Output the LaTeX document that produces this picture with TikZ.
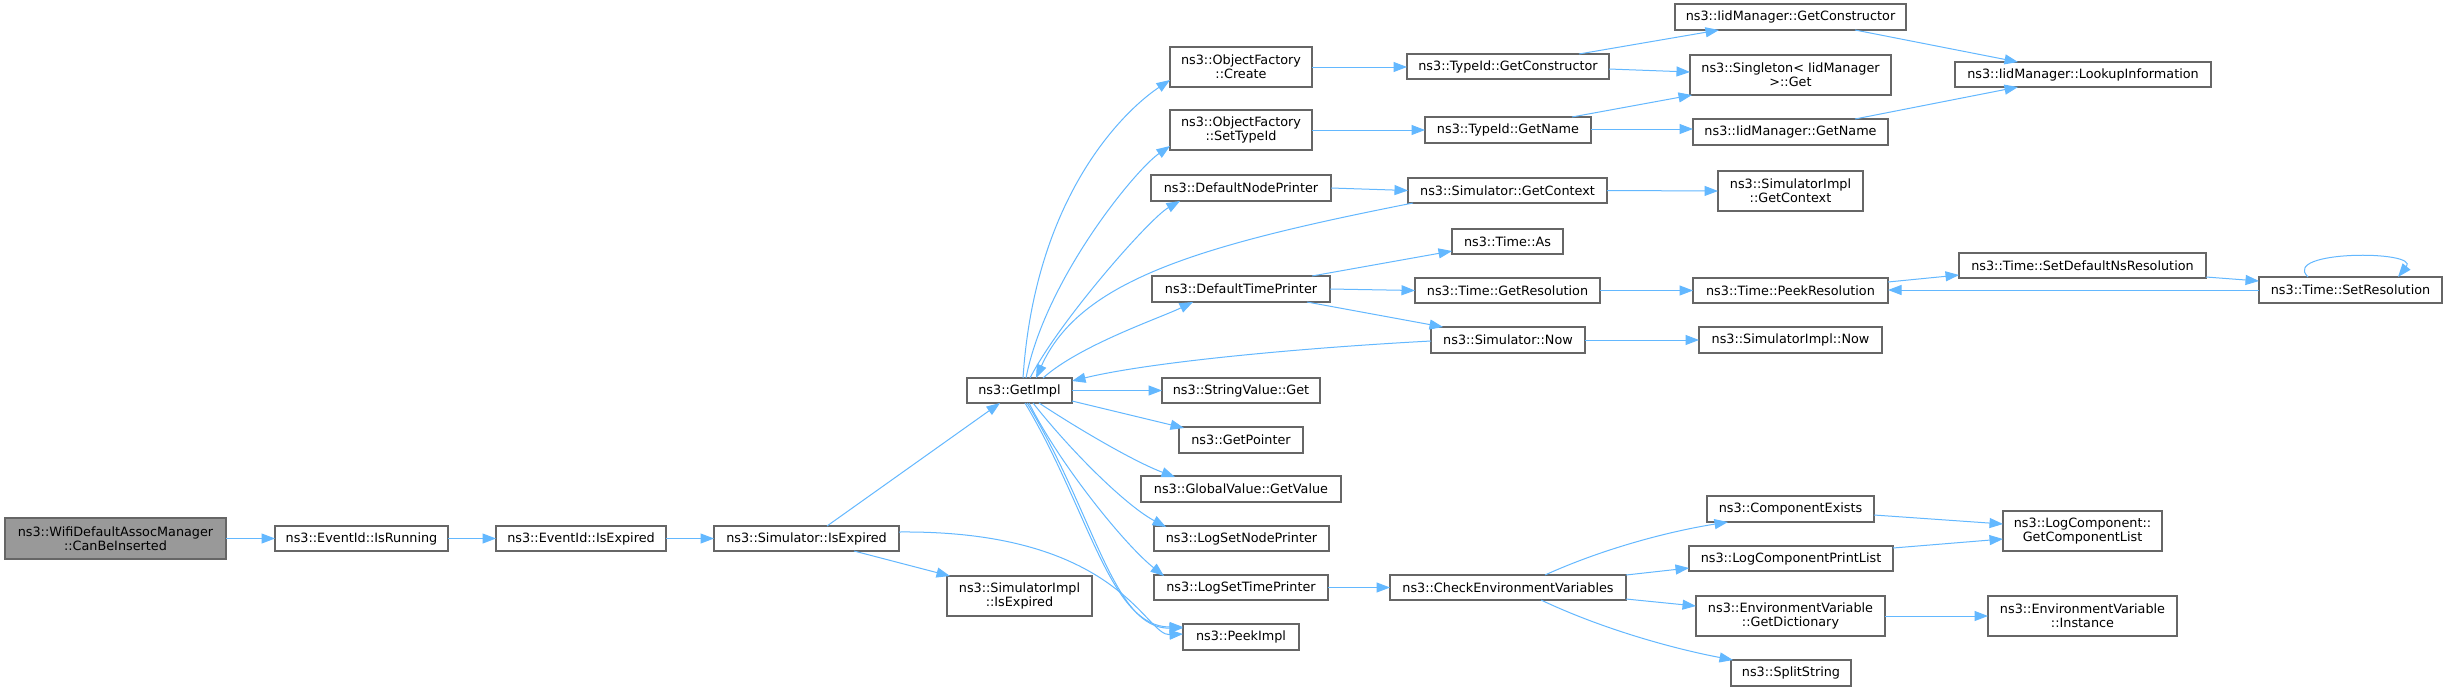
\documentclass[tikz,border=0pt]{standalone}
\usepackage{fontspec}
\setmainfont{DejaVu Sans}
\usetikzlibrary{arrows.meta}
\definecolor{edgec}{HTML}{63B8FF}
\definecolor{bordc}{HTML}{666666}
\definecolor{rootc}{HTML}{999999}
\newcommand\mkbox[6]{\node[box, minimum width=#4pt, minimum height=#5pt] (#1) at (#2,#3) {#6};}
\begin{document}
\begin{tikzpicture}[x=1pt,y=-1pt,
  box/.style={rectangle, draw=bordc, line width=1.2pt, fill=white, inner sep=0pt, outer sep=0pt, align=center, font=\fontsize{12.8}{14}\selectfont},
  edge/.style={draw=edgec, line width=1pt, -{Triangle[length=13.5pt,width=10pt]}},
]
\fill[white] (0,0) rectangle (2448,691);
\useasboundingbox (0,0) rectangle (2448,691);

% nodes
\node[box, fill=rootc, minimum width=221pt, minimum height=41pt] (wifi) at (115.5,538.5) {ns3::WifiDefaultAssocManager\\::CanBeInserted};
\mkbox{isrun}{361.5}{538.5}{173}{25}{ns3::EventId::IsRunning}
\mkbox{eidexp}{581}{538.5}{170}{25}{ns3::EventId::IsExpired}
\mkbox{simexp}{806.5}{538.5}{185}{25}{ns3::Simulator::IsExpired}
\mkbox{getimpl}{1019.5}{390.5}{105}{25}{ns3::GetImpl}
\mkbox{simiexp}{1019.5}{596}{145}{40}{ns3::SimulatorImpl\\::IsExpired}
\mkbox{ofcreate}{1241}{67}{142}{40}{ns3::ObjectFactory\\::Create}
\mkbox{ofset}{1241}{130}{142}{40}{ns3::ObjectFactory\\::SetTypeId}
\mkbox{dnp}{1241}{188}{180}{26}{ns3::DefaultNodePrinter}
\mkbox{dtp}{1241}{289}{178}{26}{ns3::DefaultTimePrinter}
\mkbox{svget}{1241}{390.5}{158}{25}{ns3::StringValue::Get}
\mkbox{gptr}{1241}{440}{124}{26}{ns3::GetPointer}
\mkbox{gvget}{1241}{489}{200}{26}{ns3::GlobalValue::GetValue}
\mkbox{lsnp}{1241.5}{538.5}{175}{25}{ns3::LogSetNodePrinter}
\mkbox{lstp}{1241}{587.5}{174}{25}{ns3::LogSetTimePrinter}
\mkbox{peek}{1241}{637}{116}{26}{ns3::PeekImpl}
\mkbox{tgc}{1508}{66.5}{202}{25}{ns3::TypeId::GetConstructor}
\mkbox{igc}{1790.5}{17}{231}{26}{ns3::IidManager::GetConstructor}
\mkbox{sing}{1790.5}{75}{201}{40}{ns3::Singleton< IidManager\\ >::Get}
\mkbox{lookup}{2083}{74.5}{256}{25}{ns3::IidManager::LookupInformation}
\mkbox{tgn}{1508}{130}{166}{26}{ns3::TypeId::GetName}
\mkbox{ign}{1790.5}{132}{195}{26}{ns3::IidManager::GetName}
\mkbox{sgc}{1507.5}{190.5}{199}{25}{ns3::Simulator::GetContext}
\mkbox{sigc}{1790.5}{191}{145}{40}{ns3::SimulatorImpl\\::GetContext}
\mkbox{tas}{1507.5}{241.5}{111}{25}{ns3::Time::As}
\mkbox{tgr}{1507.5}{290.5}{185}{25}{ns3::Time::GetResolution}
\mkbox{tpr}{1790.5}{290.5}{195}{25}{ns3::Time::PeekResolution}
\mkbox{tsdn}{2082.5}{265.5}{247}{25}{ns3::Time::SetDefaultNsResolution}
\mkbox{tsr}{2350.5}{290}{183}{26}{ns3::Time::SetResolution}
\mkbox{snow}{1508}{340}{154}{26}{ns3::Simulator::Now}
\mkbox{sinow}{1790.5}{340}{183}{26}{ns3::SimulatorImpl::Now}
\mkbox{cev}{1508}{587.5}{236}{25}{ns3::CheckEnvironmentVariables}
\mkbox{cex}{1790.5}{509}{167}{26}{ns3::ComponentExists}
\mkbox{lcpl}{1791}{558.5}{204}{25}{ns3::LogComponentPrintList}
\mkbox{lcgcl}{2082.5}{531}{159}{40}{ns3::LogComponent::\\GetComponentList}
\mkbox{evgd}{1790.5}{616}{189}{40}{ns3::EnvironmentVariable\\::GetDictionary}
\mkbox{evi}{2082.5}{616}{189}{40}{ns3::EnvironmentVariable\\::Instance}
\mkbox{split}{1791}{673}{120}{26}{ns3::SplitString}

% edges
\draw[edge] (wifi.east) -- (isrun.west);
\draw[edge] (isrun.east) -- (eidexp.west);
\draw[edge] (eidexp.east) -- (simexp.west);
\draw[edge] ([shift={(113,0)}]simexp.north west) -- ([shift={(33,25)}]getimpl.north west);
\draw[edge] ([shift={(140,25)}]simexp.north west) -- ([shift={(3,0)}]simiexp.north west);
\draw[edge] ([shift={(185,6)}]simexp.north west) .. controls +(221,-2) and +(-38,2) .. ([shift={(0,10)}]peek.north west);

\draw[edge] ([shift={(56,0)}]getimpl.north west) .. controls +(12,-183) and +(-45,30) .. ([shift={(0,33)}]ofcreate.north west);
\draw[edge] ([shift={(59,0)}]getimpl.north west) .. controls +(19,-98) and +(-35,24) .. ([shift={(0,36)}]ofset.north west);
\draw[edge] ([shift={(63,0)}]getimpl.north west) .. controls +(30,-58) and +(-30,17) .. ([shift={(29,26)}]dnp.north west);
\draw[edge] ([shift={(76,0)}]getimpl.north west) .. controls +(37,-33) and +(-33,16) .. ([shift={(41,26)}]dtp.north west);
\draw[edge] ([shift={(5,25)}]sgc.north west) .. controls +(-213,42) and +(44,-98) .. ([shift={(69,0)}]getimpl.north west);
\draw[edge] ([shift={(0,14)}]snow.north west) .. controls +(-131,7) and +(78,-19) .. ([shift={(105,3)}]getimpl.north west);

\draw[edge] (getimpl.east) -- (svget.west);
\draw[edge] ([shift={(105,23)}]getimpl.north west) -- ([shift={(5,1)}]gptr.north west);
\draw[edge] ([shift={(72,25)}]getimpl.north west) .. controls +(41,27) and +(-40,-15) .. ([shift={(34,1)}]gvget.north west);
\draw[edge] ([shift={(66,25)}]getimpl.north west) .. controls +(37,47) and +(-41,-22) .. ([shift={(12,1)}]lsnp.north west);
\draw[edge] ([shift={(62,25)}]getimpl.north west) .. controls +(31,62) and +(-39,-31) .. ([shift={(10,1)}]lstp.north west);
\draw[edge] ([shift={(58,25)}]getimpl.north west) .. controls +(64,107) and +(-73,0) .. ([shift={(0,3)}]peek.north west);
\draw[edge] ([shift={(60,25)}]getimpl.north west) .. controls +(68,112) and +(-70,1) .. ([shift={(0,4)}]peek.north west);

\draw[edge] (ofcreate.east) -- (ofcreate.east -| tgc.west);
\draw[edge] (ofset.east) -- (ofset.east -| tgn.west);
\draw[edge] (dnp.east) -- (sgc.west);
\draw[edge] ([shift={(160,0)}]dtp.north west) -- ([shift={(0,22)}]tas.north west);
\draw[edge] (dtp.east) -- (tgr.west);
\draw[edge] ([shift={(155,26)}]dtp.north west) -- ([shift={(12,0)}]snow.north west);

\draw[edge] ([shift={(172,0)}]tgc.north west) -- ([shift={(44,26)}]igc.north west);
\draw[edge] ([shift={(202,15)}]tgc.north west) -- ([shift={(0,17)}]sing.north west);
\draw[edge] ([shift={(147,0)}]tgn.north west) -- ([shift={(2,40)}]sing.north west);
\draw[edge] ([shift={(0,12)}]tgn.north east) -- ([shift={(0,12)}]tgn.north east -| ign.west);
\draw[edge] ([shift={(180,26)}]igc.north west) -- ([shift={(63,0)}]lookup.north west);
\draw[edge] ([shift={(162,0)}]ign.north west) -- ([shift={(63,25)}]lookup.north west);
\draw[edge] (sgc.east) -- (sigc.west);
\draw[edge] (tgr.east) -- (tpr.west);
\draw[edge] ([shift={(195,4)}]tpr.north west) -- ([shift={(0,22)}]tsdn.north west);
\draw[edge] ([shift={(247,24)}]tsdn.north west) -- ([shift={(0,4)}]tsr.north west);
\draw[edge] (tsr.west) -- (tsr.west -| tpr.east);
\draw[edge] ([shift={(49,0)}]tsr.north west) .. controls +(-28,-27) and +(22,-27) .. ([shift={(139,0)}]tsr.north west);
\draw[edge] (snow.east) -- (sinow.west);

\draw[edge] (lstp.east) -- (lstp.east -| cev.west);
\draw[edge] ([shift={(155,0)}]cev.north west) .. controls +(55,-25) and +(-63,10) .. ([shift={(21,26)}]cex.north west);
\draw[edge] ([shift={(236,0)}]cev.north west) -- ([shift={(0,22)}]lcpl.north west);
\draw[edge] ([shift={(236,24)}]cev.north west) -- ([shift={(0,10)}]evgd.north west);
\draw[edge] ([shift={(151,25)}]cev.north west) .. controls +(59,28) and +(-63,-12) .. ([shift={(2,0)}]split.north west);
\draw[edge] ([shift={(167,19)}]cex.north west) -- ([shift={(0,13)}]lcgcl.north west);
\draw[edge] ([shift={(204,2)}]lcpl.north west) -- ([shift={(0,28)}]lcgcl.north west);
\draw[edge] (evgd.east) -- (evi.west);
\end{tikzpicture}
\end{document}
